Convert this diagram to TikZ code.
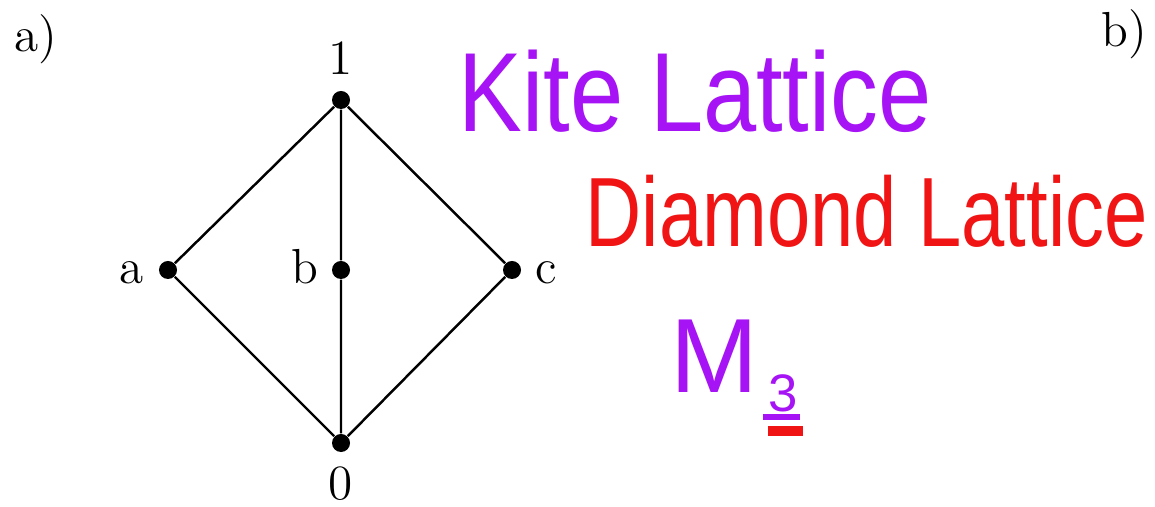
\documentclass[tikz,border=0pt]{standalone}
\usepackage{fontspec}
\newfontfamily\handfont{Liberation Sans}
\definecolor{kitepurple}{RGB}{166,20,245}
\definecolor{diamondred}{RGB}{240,20,20}
\begin{document}
\begin{tikzpicture}[x=0.01cm,y=-0.01cm,
  dot/.style={circle,fill=black,inner sep=0pt,minimum size=0.18cm},
  lbl/.style={font=\fontsize{14}{16}\selectfont,inner sep=0pt,anchor=base},
  edge/.style={line width=0.7pt,black}]
\useasboundingbox (0,0) rectangle (1155,507);
% lattice
\node[dot] (one) at (341,100) {};
\node[dot] (a) at (168,270) {};
\node[dot] (b) at (341,270) {};
\node[dot] (c) at (512,270) {};
\node[dot] (zero) at (341,443) {};
\draw[edge] (one) -- (a) -- (zero) -- (c) -- (one) -- (b) -- (zero);
% labels
\node[lbl] (l1) at (341,75) {1};
\node[lbl] (l0) at (341,500) {0};
\node[lbl] (la) at (132,284) {a};
\node[lbl] (lb) at (305,284) {b};
\node[lbl] (lc) at (546,284) {c};
\node[lbl,anchor=base west] (pa) at (14,52) {a)};
\node[lbl,anchor=base east] (pb) at (1148,47) {b)};
% handwritten notes
\node[anchor=base west,inner sep=0pt,text=kitepurple,font=\handfont\fontsize{32}{36}\selectfont] (kite) at (458,132) {\scalebox{0.85}[1]{Kite Lattice}};
\node[anchor=base west,inner sep=0pt,text=diamondred,font=\handfont\fontsize{28}{32}\selectfont] (diamond) at (585,247) {\scalebox{0.79}[1]{Diamond Lattice}};
\node[anchor=base west,inner sep=0pt,text=kitepurple,font=\handfont\fontsize{30}{34}\selectfont] (M) at (670,393) {M};
\node[anchor=base west,inner sep=0pt,text=kitepurple,font=\handfont\fontsize{15}{18}\selectfont] (three) at (768,412) {3};
\coordinate (u1) at (763,417);
\coordinate (u2) at (800,417);
\draw[kitepurple,line width=1.6pt] (u1) -- (u2);
\coordinate (r1) at (768,431);
\coordinate (r2) at (803,431);
\draw[diamondred,line width=2.6pt] (r1) -- (r2);
\end{tikzpicture}
\end{document}
